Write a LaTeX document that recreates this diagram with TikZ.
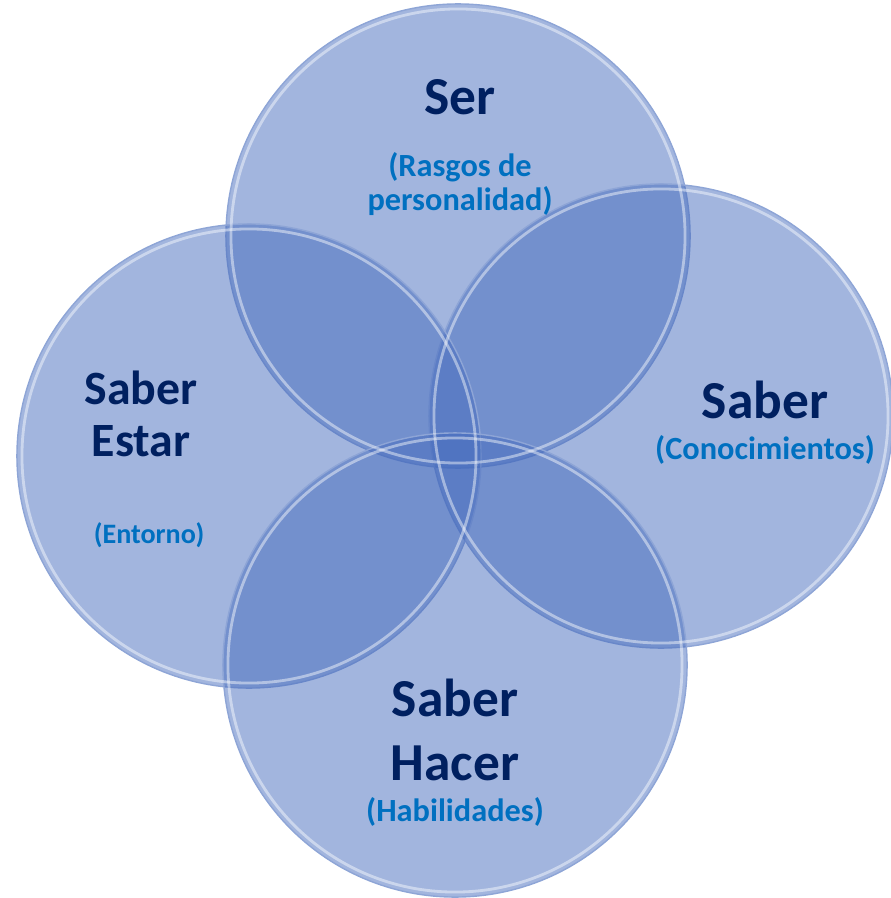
\documentclass[tikz,border=0pt]{standalone}
\usepackage{fontspec}
\setmainfont{Carlito}
\usetikzlibrary{positioning}
\definecolor{circfill}{HTML}{456BBD}
\definecolor{navy}{HTML}{002060}
\definecolor{subblue}{HTML}{0070C0}
\definecolor{rim}{HTML}{8EA5D6}

\begin{document}
\begin{tikzpicture}[x=0.025cm, y=-0.025cm,
    circ/.style={circle, minimum size=11.6cm, inner sep=0pt, fill=circfill, fill opacity=0.5, draw=rim, line width=1pt},
    glow/.style={circle, minimum size=11.35cm, inner sep=0pt, draw=white, draw opacity=0.45, line width=2pt},
    title/.style={font=\bfseries\fontsize{38}{38}\selectfont, text=navy, align=center},
    sub/.style={font=\bfseries\fontsize{23}{24.5}\selectfont, text=subblue, align=center}]
    \useasboundingbox (0,0) rectangle (890,898);

    % Circles
    \node[circ] (ser) at (458,236) {};
    \node[circ] (saber) at (661,416) {};
    \node[circ] (estar) at (249,456) {};
    \node[circ] (hacer) at (455,665) {};
    \node[glow] at (ser) {};
    \node[glow] at (saber) {};
    \node[glow] at (estar) {};
    \node[glow] at (hacer) {};

    % Ser
    \node[title] (sertitle) at (460,97) {Ser};
    \node[sub] (sersub) at (460,184) {(Rasgos de\\personalidad)};

    % Saber
    \node[title] (sabertitle) at (765,400) {Saber};
    \node[sub] (sabersub) at (765,450) {(Conocimientos)};

    % Saber Estar
    \node[title, font=\bfseries\fontsize{34}{37}\selectfont] (estartitle) at (141,414) {Saber\\Estar};
    \node[sub, font=\bfseries\fontsize{20}{24}\selectfont] (estarsub) at (149,535) {(Entorno)};

    % Saber Hacer
    \node[title, font=\bfseries\fontsize{38}{46}\selectfont] (hacertitle) at (455,730) {Saber\\Hacer};
    \node[sub] (hacersub) at (455,812) {(Habilidades)};
\end{tikzpicture}
\end{document}
